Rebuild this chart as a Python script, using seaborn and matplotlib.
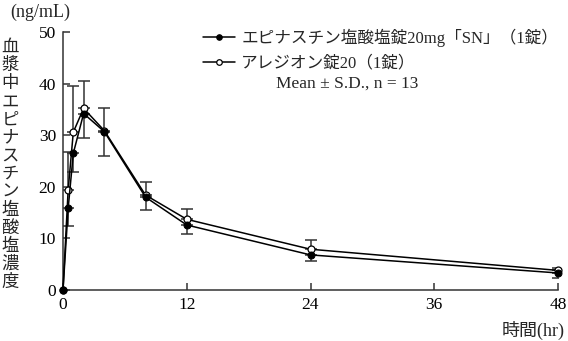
import numpy as np
import pandas as pd
import matplotlib
matplotlib.use("Agg")
import matplotlib.pyplot as plt
import seaborn as sns

# ---- data ----
time_hr = [0, 0.5, 1, 2, 4, 8, 12, 24, 48]
sn_mean = [0, 15.8, 26.5, 34.2, 30.7, 18.0, 12.6, 6.8, 3.3]
sn_sd = [0, 3.4, 3.6, 4.7, 4.7, 2.4, 1.8, 1.1, 1.0]
al_mean = [0, 19.4, 30.6, 35.2, 30.9, 18.4, 13.7, 7.9, 3.8]
al_sd = [0, 7.4, 9.0, 5.4, 4.4, 2.6, 2.0, 1.7, 0.5]

series_labels = ["エピナスチン塩酸塩錠20mg「SN」（1錠）", "アレジオン錠20（1錠）"]
note_text = "Mean ± S.D., n = 13"
x_ticks = [0, 12, 24, 36, 48]
y_ticks = [0, 10, 20, 30, 40, 50]
ylabel_text = "血漿中エピナスチン塩酸塩濃度"
unit_text = "(ng/mL)"
xlabel_text = "時間(hr)"

# ---- style ----
sns.set_style("ticks")
plt.rcParams["font.family"] = ["Liberation Serif", "Noto Sans CJK JP", "DejaVu Sans"]

W, H = 568, 341
fig = plt.figure(figsize=(W / 100, H / 100), dpi=100)
ax = fig.add_axes([63 / W, 1 - 290 / H, (558 - 63) / W, (290 - 32) / H])

df = pd.DataFrame({"time": time_hr, "sn": sn_mean, "al": al_mean})

spine_c = "#333333"

def one_sided(t, m, sd, upper):
    t = np.asarray(t); m = np.asarray(m); sd = np.asarray(sd)
    k = sd > 0
    z = np.zeros(k.sum())
    yerr = [z, sd[k]] if upper else [sd[k], z]
    ax.errorbar(t[k], m[k], yerr=yerr, fmt="none", ecolor=spine_c,
                elinewidth=1.1, capsize=4.5, capthick=1.1, zorder=2)

one_sided(time_hr, al_mean, al_sd, True)
one_sided(time_hr, sn_mean, sn_sd, False)

sns.lineplot(data=df, x="time", y="al", ax=ax, color="black", lw=1.1,
             marker="o", markersize=5, markerfacecolor="white",
             markeredgecolor="black", markeredgewidth=0.9,
             label=series_labels[1], clip_on=False, zorder=3)
sns.lineplot(data=df, x="time", y="sn", ax=ax, color="black", lw=1.1,
             marker="o", markersize=5, markerfacecolor="black",
             markeredgecolor="black", label=series_labels[0],
             clip_on=False, zorder=4)

ax.set_xlim(0, 48)
ax.set_ylim(0, 50)
ax.set_xticks(x_ticks)
ax.set_yticks(y_ticks)
ax.set_xlabel("")
ax.set_ylabel("")
for s in ["top", "right"]:
    ax.spines[s].set_visible(False)
for s in ["left", "bottom"]:
    ax.spines[s].set_color(spine_c)
    ax.spines[s].set_linewidth(1.1)
ax.tick_params(direction="in", length=5, width=1.1, color=spine_c,
               labelsize=12.5, labelcolor="black")
ax.tick_params(axis="y", pad=5)
ax.tick_params(axis="x", pad=5)

# legend
h, l = ax.get_legend_handles_labels()
order = [l.index(series_labels[0]), l.index(series_labels[1])]
leg = ax.legend([h[i] for i in order], [l[i] for i in order],
                loc="upper left", bbox_to_anchor=(203 / W, 1 - 29 / H),
                bbox_transform=fig.transFigure, frameon=False,
                fontsize=12, handlelength=1.9, handletextpad=0.4,
                labelspacing=0.5, borderpad=0, borderaxespad=0,
                markerscale=0.8)
fig.text(276 / W, 1 - 84 / H, note_text, fontsize=12.5, ha="left", va="center")

# unit, axis titles
fig.text(10 / W, 1 - 12 / H, unit_text, fontsize=13, ha="left", va="center")
fig.text(565 / W, 1 - 330 / H, xlabel_text, fontsize=13, ha="right", va="center")
n = len(ylabel_text)
y0, y1 = 48, 283
for i, ch in enumerate(ylabel_text):
    yy = y0 + (y1 - y0) * i / (n - 1)
    fig.text(10 / W, 1 - yy / H, ch, fontsize=12.5, ha="center", va="center")

fig.savefig("out.png", dpi=100)
